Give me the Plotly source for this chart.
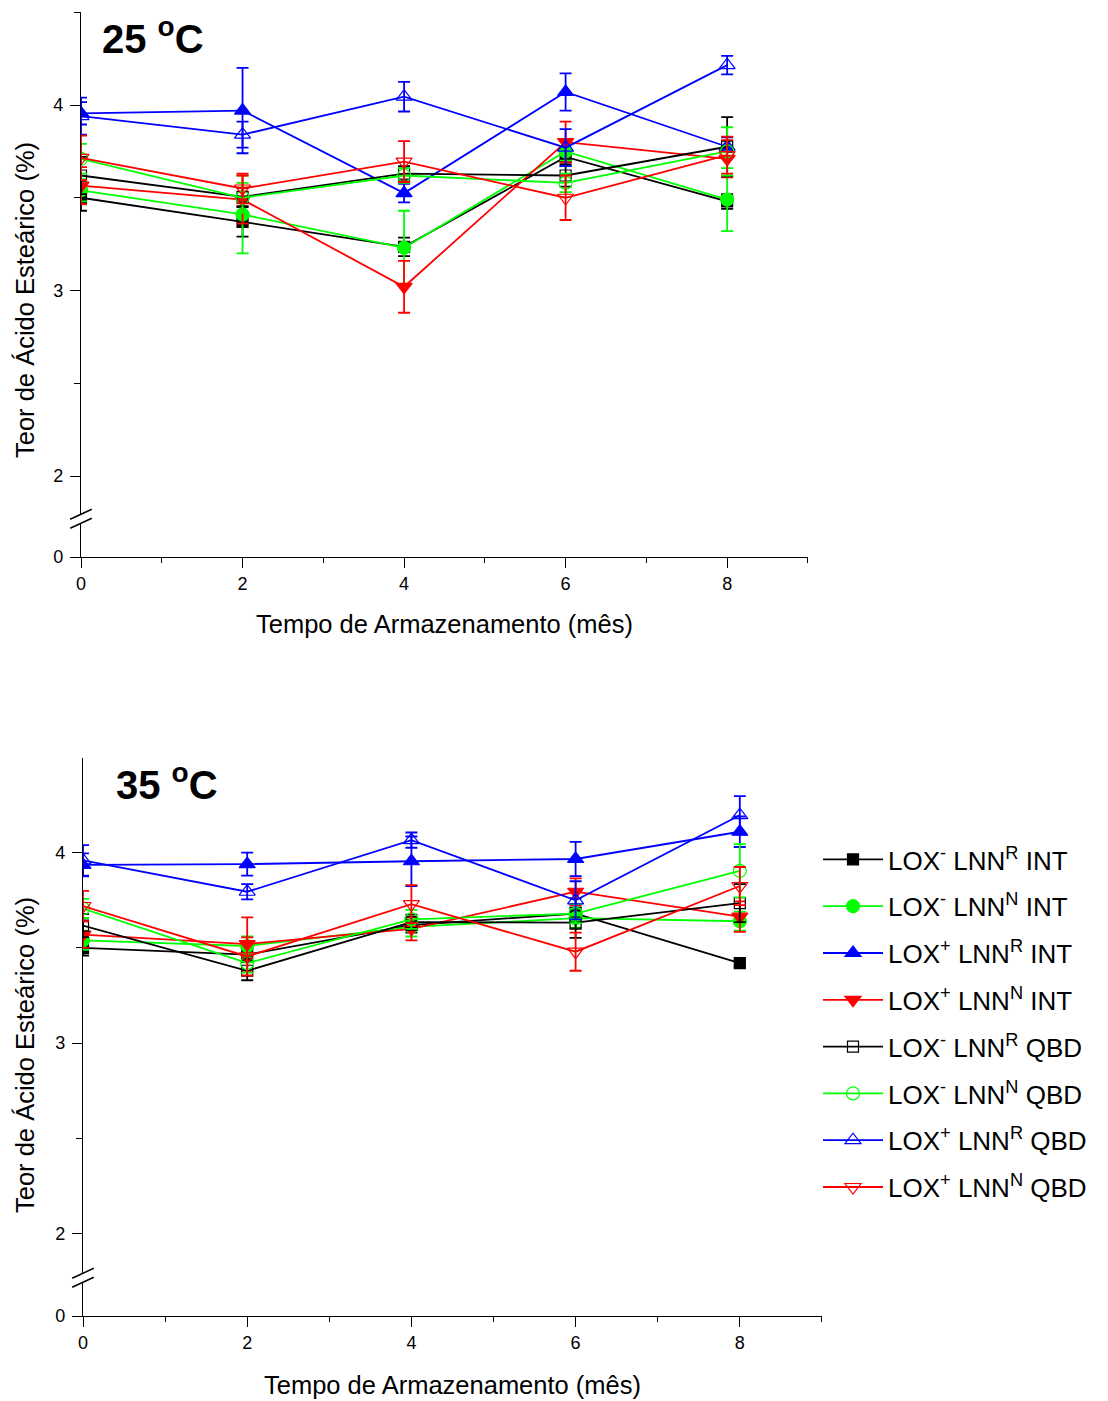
import plotly.graph_objects as go

W, H = 1108, 1401
FONT = "Liberation Sans, Arial, sans-serif"

months = [0, 2, 4, 6, 8]

names = [
    "LOX<sup>-</sup> LNN<sup>R</sup> INT",
    "LOX<sup>-</sup> LNN<sup>N</sup> INT",
    "LOX<sup>+</sup> LNN<sup>R</sup> INT",
    "LOX<sup>+</sup> LNN<sup>N</sup> INT",
    "LOX<sup>-</sup> LNN<sup>R</sup> QBD",
    "LOX<sup>-</sup> LNN<sup>N</sup> QBD",
    "LOX<sup>+</sup> LNN<sup>R</sup> QBD",
    "LOX<sup>+</sup> LNN<sup>N</sup> QBD",
]

# 25 °C
t25_mean = [
    [3.50, 3.37, 3.235, 3.72, 3.48],
    [3.54, 3.41, 3.23, 3.75, 3.49],
    [3.955, 3.97, 3.525, 4.07, 3.775],
    [3.565, 3.49, 3.02, 3.80, 3.71],
    [3.62, 3.505, 3.63, 3.62, 3.775],
    [3.71, 3.50, 3.62, 3.58, 3.75],
    [3.94, 3.84, 4.045, 3.77, 4.215],
    [3.715, 3.55, 3.695, 3.50, 3.73],
]
t25_err = [
    [0.07, 0.08, 0.05, 0.05, 0.04],
    [0.06, 0.21, 0.20, 0.05, 0.17],
    [0.06, 0.23, 0.05, 0.10, 0.05],
    [0.10, 0.13, 0.14, 0.11, 0.10],
    [0.10, 0.05, 0.04, 0.06, 0.16],
    [0.08, 0.08, 0.04, 0.05, 0.13],
    [0.10, 0.07, 0.08, 0.10, 0.05],
    [0.12, 0.08, 0.11, 0.12, 0.10],
]

# 35 °C
t35_mean = [
    [3.50, 3.465, 3.62, 3.68, 3.42],
    [3.54, 3.51, 3.61, 3.656, 3.64],
    [3.936, 3.94, 3.955, 3.967, 4.11],
    [3.57, 3.52, 3.60, 3.795, 3.664],
    [3.617, 3.38, 3.635, 3.633, 3.735],
    [3.707, 3.42, 3.65, 3.68, 3.905],
    [3.96, 3.795, 4.066, 3.75, 4.197],
    [3.72, 3.455, 3.73, 3.48, 3.825],
]
t35_err = [
    [0.04, 0.04, 0.04, 0.08, 0.02],
    [0.05, 0.05, 0.05, 0.05, 0.05],
    [0.06, 0.06, 0.13, 0.09, 0.08],
    [0.07, 0.14, 0.06, 0.07, 0.08],
    [0.06, 0.05, 0.04, 0.08, 0.10],
    [0.05, 0.05, 0.05, 0.05, 0.14],
    [0.08, 0.04, 0.04, 0.10, 0.10],
    [0.08, 0.10, 0.10, 0.10, 0.10],
]

colors = ["#000000", "#00FF00", "#0000FF", "#FF0000",
          "#000000", "#00FF00", "#0000FF", "#FF0000"]
symbols = ["square", "circle", "triangle-up", "triangle-down",
           "square-open", "circle-open", "triangle-up-open", "triangle-down-open"]
sizes = [11, 13, 14, 14, 11, 13, 14, 14]

xt = ["0", "2", "4", "6", "8"]


def px(x):
    return x / W


def py(y):
    return 1 - y / H


fig = go.Figure()

panels = [
    (t25_mean, t25_err, "x", "y", False),
    (t35_mean, t35_err, "x2", "y3", True),
]
for means, errs, xa, ya, leg in panels:
    for i in range(8):
        fig.add_trace(go.Scatter(
            x=months, y=means[i], xaxis=xa, yaxis=ya,
            mode="lines+markers", name=names[i], showlegend=leg,
            legendgroup=f"g{i}",
            line=dict(color=colors[i], width=1.8),
            marker=dict(symbol=symbols[i], size=sizes[i], color=colors[i],
                        line=dict(color=colors[i], width=1.2)),
            error_y=dict(type="data", array=errs[i], visible=True,
                         color=colors[i], thickness=1.8, width=6),
        ))

# empty helper traces so the lower (broken-axis) segments exist as subplots
for xa, ya in (("x", "y2"), ("x2", "y4")):
    fig.add_trace(go.Scatter(x=[], y=[], xaxis=xa, yaxis=ya, mode="markers",
                             showlegend=False, hoverinfo="skip"))

axis_common = dict(showline=True, linecolor="black", linewidth=1.3,
                   ticks="outside", ticklen=10, tickwidth=1.3, tickcolor="black",
                   showgrid=False, zeroline=False, automargin=False,
                   tickfont=dict(size=18, color="black", family=FONT))

top = dict(x0=81, x1=808, ytop=12, ybrk_hi=514.5, ybrk_lo=523, ybot=557, y4=105, scale=185.5)
bot = dict(x0=83, x1=822, ytop=758, ybrk_hi=1273.5, ybrk_lo=1282, ybot=1316, y4=852.7, scale=190.4)


def yrange(g):
    lo = 4 - (g["ybrk_hi"] - g["y4"]) / g["scale"]
    hi = 4 + (g["y4"] - g["ytop"]) / g["scale"]
    return [lo, hi]


def lrange(g):
    return [0, (g["ybot"] - g["ybrk_lo"]) / g["scale"]]


xcommon = dict(axis_common, range=[0, 9.001], tickmode="array", tickvals=months, ticktext=xt,
               side="bottom",
               minor=dict(tickmode="linear", tick0=0, dtick=1, ticks="outside", ticklen=5,
                          tickwidth=1.3, tickcolor="black", showgrid=False))
ycommon = dict(axis_common, tickmode="linear", tick0=0, dtick=1, ticklabelstandoff=3,
               minor=dict(tickmode="linear", tick0=0, dtick=0.5, ticks="outside", ticklen=6,
                          tickwidth=1.3, tickcolor="black", showgrid=False))
lowcommon = dict(axis_common, tickmode="array", tickvals=[0], ticktext=["0"], ticklabelstandoff=3)

fig.update_layout(
    xaxis=dict(xcommon, domain=[px(top["x0"]), px(top["x1"])], anchor="y2"),
    yaxis=dict(ycommon, domain=[py(top["ybrk_hi"]), py(top["ytop"])], range=yrange(top), anchor="x"),
    yaxis2=dict(lowcommon, domain=[py(top["ybot"]), py(top["ybrk_lo"])], range=lrange(top), anchor="x"),
    xaxis2=dict(xcommon, domain=[px(bot["x0"]), px(bot["x1"])], anchor="y4"),
    yaxis3=dict(ycommon, domain=[py(bot["ybrk_hi"]), py(bot["ytop"])], range=yrange(bot), anchor="x2"),
    yaxis4=dict(lowcommon, domain=[py(bot["ybot"]), py(bot["ybrk_lo"])], range=lrange(bot), anchor="x2"),
)

shapes = []
for g in (top, bot):
    ax = g["x0"]
    yc = (g["ybrk_hi"] + g["ybrk_lo"]) / 2
    for dy in (-4.5, 4.5):
        shapes.append(dict(type="line", xref="paper", yref="paper",
                           x0=px(ax - 10.8), y0=py(yc + dy + 5),
                           x1=px(ax + 10.8), y1=py(yc + dy - 5),
                           line=dict(color="black", width=1.5)))

annotations = []
for g, cy_title, ytitle_cy, label, lx in (
        (top, 624, 300, "<b>25 <sup>o</sup>C</b>", 100),
        (bot, 1385, 1055, "<b>35 <sup>o</sup>C</b>", 114)):
    annotations.append(dict(text="Tempo de Armazenamento (mês)", x=px((g["x0"] + g["x1"]) / 2),
                            y=py(cy_title), xref="paper", yref="paper", showarrow=False,
                            xanchor="center", yanchor="middle",
                            font=dict(size=25.5, color="black", family=FONT)))
    annotations.append(dict(text="Teor de Ácido Esteárico (%)", x=px(25), y=py(ytitle_cy),
                            xref="paper", yref="paper", showarrow=False, textangle=-90,
                            xanchor="center", yanchor="middle",
                            font=dict(size=25.5, color="black", family=FONT)))
    annotations.append(dict(text=label, x=px(lx), y=py(g["ytop"] + 24), xref="paper", yref="paper",
                            showarrow=False, xanchor="left", yanchor="middle",
                            font=dict(size=40, color="black", family=FONT)))

fig.update_layout(
    width=W, height=H, margin=dict(l=0, r=0, t=0, b=0),
    paper_bgcolor="white", plot_bgcolor="white",
    font=dict(family=FONT, color="black"),
    shapes=shapes, annotations=annotations,
    legend=dict(x=px(818), y=py(836), xanchor="left", yanchor="top",
                font=dict(size=26, color="black", family=FONT),
                bgcolor="rgba(0,0,0,0)", tracegroupgap=10, itemwidth=60),
)

fig.write_html("out.html")
